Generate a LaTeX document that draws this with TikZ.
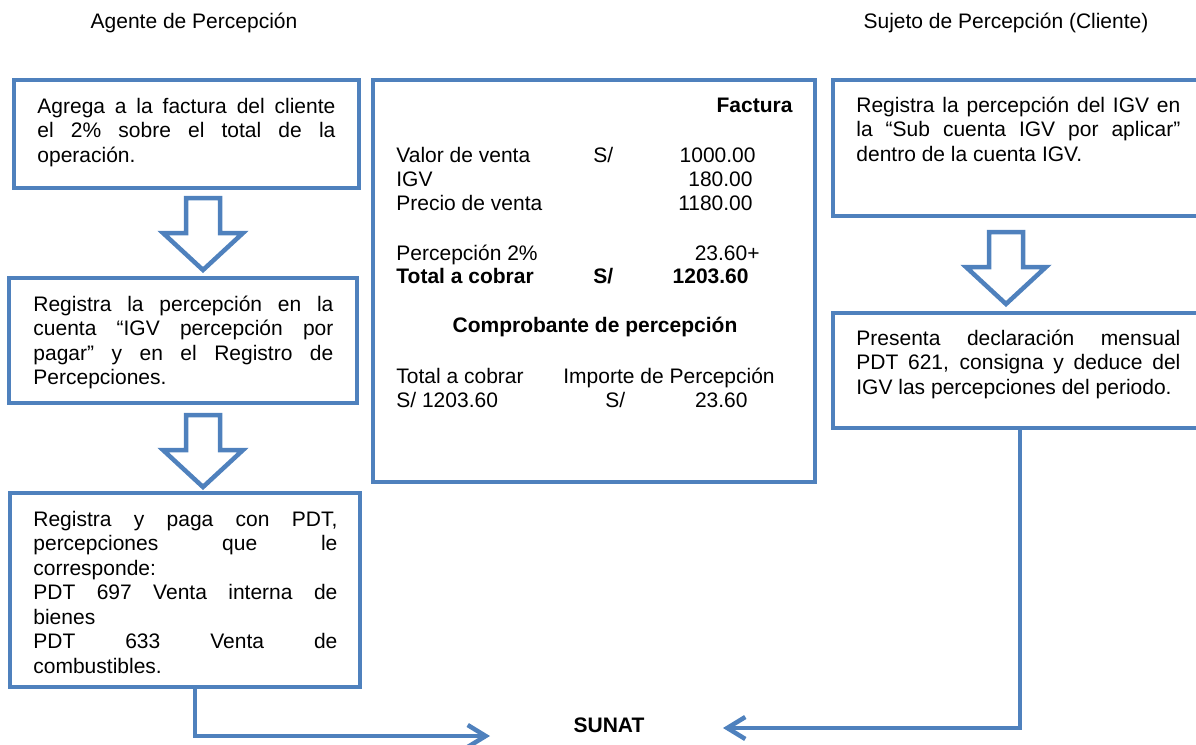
\documentclass[tikz,border=0pt]{standalone}
\usepackage{fontspec}
\setmainfont{Liberation Sans}
\usepackage{xcolor}
\usepackage{tikz}
\usetikzlibrary{positioning, calc, fit, arrows.meta}

\definecolor{boxblue}{HTML}{4F81BD}
\newcommand{\jline}[1]{\makebox[\hsize][s]{#1}\\}
\newcommand{\firstln}{\rule{0pt}{10pt}}

\tikzset{
	frame/.style={draw=boxblue, line width=2.25pt, inner sep=0pt},
	para/.style={anchor=north west, inner sep=0pt, align=justify},
	flow/.style={draw=boxblue, line width=2.25pt, -{Straight Barb[length=9pt, width=11pt]}},
	down/.pic={\draw[boxblue, line width=2.25pt, line join=miter]
		(-17,0) -- (17,0) -- (17,35) -- (40,35) -- (0,72) -- (-40,35) -- (-17,35) -- cycle;}
}

\begin{document}
\begin{tikzpicture}[x=0.5pt, y=-0.5pt, font=\fontsize{10.5}{12.25}\selectfont, every node/.style={inner sep=0pt}]
			\useasboundingbox (0,0) rectangle (1196,745);
			\clip (0,0) rectangle (1196,745);
			
			% headers
			\node[anchor=base] (agente) at (194,28) {Agente de Percepción};
			\node[anchor=base] (sujeto) at (1006,28) {Sujeto de Percepción (Cliente)};
			
			% left column
			\node[frame, fit={(14,80) (359,188)}] (b1) {};
			\node[para, text width=149pt] (t1) at (37,93) {\firstln\jline{Agrega a la factura del cliente}\jline{el 2\% sobre el total de la}operación.};
			\pic (a1) at (203,198) {down};
			\node[frame, fit={(9,278) (357,403)}] (b2) {};
			\node[para, text width=150pt] (t2) at (33,291) {\firstln\jline{Registra la percepción en la}\jline{cuenta “IGV percepción por}\jline{pagar” y en el Registro de}Percepciones.};
			\pic (a2) at (203,415) {down};
			\node[frame, fit={(10,493) (360,687)}] (b3) {};
			\node[para, text width=152pt] (t3) at (33,506) {\firstln\jline{Registra y paga con PDT,}\jline{percepciones que le}corresponde:\\\jline{PDT 697 Venta interna de}bienes\\\jline{PDT 633 Venta de}combustibles.};
			
			% factura
			\node[frame, fit={(373,80) (815,482)}] (factura) {};
			\node[anchor=base east] (fac) at (793,112) {\textbf{Factura}};
			\node[anchor=base west] (vv) at (396,162) {Valor de venta};
			\node[anchor=base west] (vvs) at (593,162) {S/};
			\node[anchor=base east] (vvn) at (756,162) {1000.00};
			\node[anchor=base west] (igv) at (396,186) {IGV};
			\node[anchor=base east] (igvn) at (753,186) {180.00};
			\node[anchor=base west] (pv) at (396,210) {Precio de venta};
			\node[anchor=base east] (pvn) at (753,210) {1180.00};
			\node[anchor=base west] (per) at (396,260) {Percepción 2\%};
			\node[anchor=base east] (pern) at (760,260) {23.60+};
			\node[anchor=base west] (tot) at (396,283) {\textbf{Total a cobrar}};
			\node[anchor=base west] (tots) at (593,283) {\textbf{S/}};
			\node[anchor=base east] (totn) at (749,283) {\textbf{1203.60}};
			\node[anchor=base] (comp) at (595,332) {\textbf{Comprobante de percepción}};
			\node[anchor=base west] (ctot) at (396,383) {Total a cobrar};
			\node[anchor=base west] (cimp) at (563,383) {Importe de Percepción};
			\node[anchor=base west] (cs) at (396,407) {S/ 1203.60};
			\node[anchor=base west] (cps) at (605,407) {S/};
			\node[anchor=base east] (cpn) at (748,407) {23.60};
			
			% right column
			\node[frame, fit={(833,80) (1207,216)}] (r1) {};
			\node[para, text width=162pt] (tr1) at (856,92) {\firstln\jline{Registra la percepción del IGV en}\jline{la “Sub cuenta IGV por aplicar”}dentro de la cuenta IGV.};
			\pic (a3) at (1006,232) {down};
			\node[frame, fit={(833,313) (1207,428)}] (r2) {};
			\node[para, text width=162pt] (tr2) at (856,325) {\firstln\jline{Presenta declaración mensual}\jline{PDT 621, consigna y deduce del}IGV las percepciones del periodo.};
			
			% sunat
			\node[anchor=base] (sunat) at (609,732) {\textbf{SUNAT}};
			\coordinate (inL) at (490,736);
			\coordinate (inR) at (723,728);
			
			\draw[flow] ([xshift=5pt]b3.south) |- (inL);
			\draw[flow] (r2.south) |- (inR);
		\end{tikzpicture}
\end{document}
